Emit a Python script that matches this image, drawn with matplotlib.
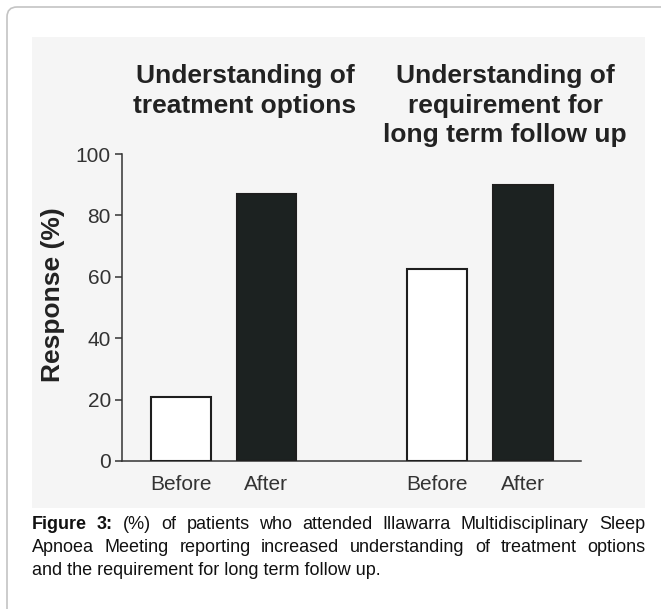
import matplotlib
matplotlib.use("Agg")
import matplotlib.pyplot as plt
from matplotlib.patches import FancyBboxPatch, Rectangle
from matplotlib.transforms import IdentityTransform

plt.rcParams['font.family'] = ['Liberation Sans', 'DejaVu Sans']

# ---- data ----
groups = ["Understanding of\ntreatment options",
          "Understanding of\nrequirement for\nlong term follow up"]
bar_labels = ["Before", "After", "Before", "After"]
values = [21, 87, 62.5, 90]
positions = [0, 1, 3, 4]
yticks = [0, 20, 40, 60, 80, 100]
ylabel = "Response (%)"
caption_lines = [
    [("Figure", True), ("3:", True), ("(%)", False), ("of", False), ("patients", False),
     ("who", False), ("attended", False), ("Illawarra", False), ("Multidisciplinary", False),
     ("Sleep", False)],
    [("Apnoea", False), ("Meeting", False), ("reporting", False), ("increased", False),
     ("understanding", False), ("of", False), ("treatment", False), ("options", False)],
]
caption_last = "and the requirement for long term follow up."

W, H = 661, 609
DPI = 100
fig = plt.figure(figsize=(W / DPI, H / DPI), dpi=DPI)
fig.patch.set_facecolor("white")

def py(y):  # top-based pixel -> display y
    return H - y

# outer rounded frame
frame = FancyBboxPatch((7, py(625)), 720, 625 - 7,
                       boxstyle="round,pad=0,rounding_size=10",
                       transform=IdentityTransform(), facecolor="white",
                       edgecolor="#c4c4c4", linewidth=1.2, zorder=0)
fig.patches.append(frame)
# gray panel
panel = Rectangle((32, py(508)), 645 - 32, 508 - 37, transform=IdentityTransform(),
                  facecolor="#f5f5f5", edgecolor="none", zorder=0.5)
fig.patches.append(panel)

# axes
ax_l, ax_r, ax_t, ax_b = 122, 581, 154, 461
ax = fig.add_axes([ax_l / W, 1 - ax_b / H, (ax_r - ax_l) / W, (ax_b - ax_t) / H])
ax.set_facecolor("none")
ax.set_zorder(2)

colors = ["white", "#1c2221", "white", "#1c2221"]
ax.bar(positions, values, width=0.7, color=colors, edgecolor="#1e1e1e",
       linewidth=1.5, zorder=3)

ax.set_xlim(-0.69, 4.68)
ax.set_ylim(0, 100)
ax.set_yticks(yticks)
ax.set_yticklabels([str(t) for t in yticks])
ax.set_xticks(positions)
ax.set_xticklabels(bar_labels)

for s in ["top", "right"]:
    ax.spines[s].set_visible(False)
for s in ["left", "bottom"]:
    ax.spines[s].set_color("#333333")
    ax.spines[s].set_linewidth(1.1)

ax.tick_params(axis="y", length=5, width=1.1, color="#333333", pad=3,
               labelsize=15, labelcolor="#333333")
ax.tick_params(axis="x", length=0, pad=10, labelsize=15, labelcolor="#333333")

# group titles
fig.text(245 / W, 1 - 64 / H, groups[0], ha="center", va="top", fontsize=19,
         fontweight="bold", color="#222222", linespacing=1.3)
fig.text(505 / W, 1 - 64 / H, groups[1], ha="center", va="top", fontsize=19,
         fontweight="bold", color="#222222", linespacing=1.3)

# y label
fig.text(53 / W, 1 - 295 / H, ylabel, rotation=90, ha="center", va="center",
         fontsize=19, fontweight="bold", color="#222222")

# caption (justified)
renderer = fig.canvas.get_renderer()
cap_left, cap_right = 32, 645
base_y = [529, 552]
fs = 13
for line, by in zip(caption_lines, base_y):
    texts = []
    widths = []
    for word, bold in line:
        t = fig.text(0, 0, word, fontsize=fs, fontweight="bold" if bold else "normal",
                     color="#111111", va="baseline", ha="left")
        texts.append(t)
        widths.append(t.get_window_extent(renderer).width)
    gap = (cap_right - cap_left - sum(widths)) / (len(widths) - 1)
    x = cap_left
    for t, w in zip(texts, widths):
        t.set_position((x / W, 1 - by / H))
        x += w + gap
fig.text(cap_left / W, 1 - 575 / H, caption_last, fontsize=fs, color="#111111",
         va="baseline", ha="left")

fig.savefig("out.png", dpi=DPI)
